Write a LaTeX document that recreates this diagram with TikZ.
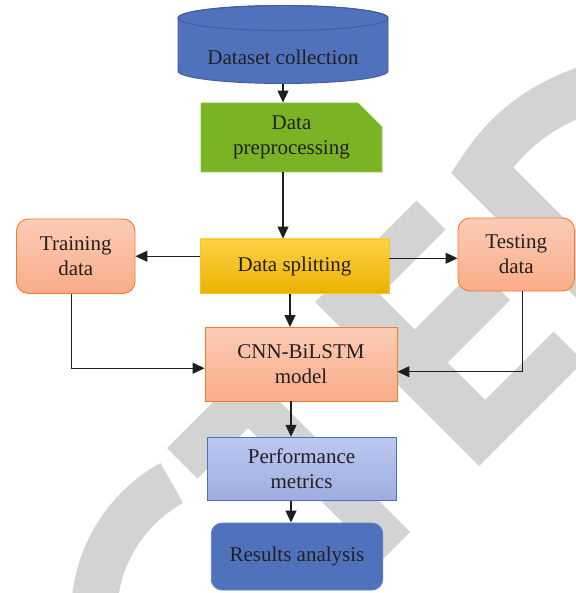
\documentclass[tikz,border=0pt]{standalone}
\usepackage{fontspec}
\setmainfont{Liberation Serif}
\usetikzlibrary{arrows.meta,shapes.misc}
\definecolor{wm}{RGB}{211,211,211}
\definecolor{txt}{RGB}{35,31,32}
\definecolor{cylblue}{RGB}{80,114,188}
\definecolor{cylline}{RGB}{62,92,158}
\definecolor{grfill}{RGB}{122,180,36}
\definecolor{grline}{RGB}{143,200,70}
\definecolor{yltop}{RGB}{255,209,70}
\definecolor{ylmid}{RGB}{255,195,0}
\definecolor{ylbot}{RGB}{233,178,0}
\definecolor{ylline}{RGB}{244,196,48}
\definecolor{ortop}{RGB}{251,204,182}
\definecolor{orbot}{RGB}{250,172,136}
\definecolor{orline}{RGB}{237,125,49}
\definecolor{pftop}{RGB}{188,200,241}
\definecolor{pfbot}{RGB}{157,173,223}
\definecolor{pfline}{RGB}{68,114,196}
\definecolor{resline}{RGB}{95,128,200}
\definecolor{arrc}{RGB}{30,30,30}
\tikzset{
  box/.style={draw, line width=0.9pt, align=center, inner sep=0pt, text=txt,
    font=\fontsize{21}{25}\selectfont},
  orbox/.style={box, draw=orline, top color=ortop, bottom color=orbot},
  arr/.style={draw=arrc, line width=1.2pt, -{Triangle[length=12pt,width=11pt]}},
  wmark/.style={draw=wm, line cap=butt}
}
\begin{document}
\begin{tikzpicture}[x=1pt,y=-1pt]
\useasboundingbox (0,0) rectangle (575,593);
% watermark
\fill[wm] (416.5,200.5) -- (315,302) -- (479,466) -- (583.5,361.5) -- (553.5,331.5)
  -- (485,400) -- (447.5,362.5) -- (510,300) -- (477,267) -- (414.5,329.5)
  -- (380,295) -- (445.5,229.5) -- cycle;
\fill[wm] (167,448) -- (246.5,368.5) -- (410,532) -- (381,561) -- (248,428) -- (197.5,478.5) -- cycle;
\draw[wmark, line width=46pt] (245,615) ++(170:151) arc[start angle=170, end angle=241, radius=151];
\draw[wmark, line width=48pt, line join=miter] (612,82) .. controls (540,100) and (505,135) .. (482,170) -- (660,348);
% cylinder
\node[minimum width=210pt, minimum height=79pt, inner sep=0pt] (ds) at (283,44.5) {};
\filldraw[fill=cylblue, draw=cylline, line width=0.9pt]
  (178,18) -- (178,71) arc[start angle=180, end angle=0, x radius=105, y radius=12.5]
  -- (388,18) arc[start angle=0, end angle=-180, x radius=105, y radius=12.5] -- cycle;
\draw[cylline, line width=0.9pt] (283,18) ellipse[x radius=105, y radius=12.5];
\node[text=txt, font=\fontsize{21}{25}\selectfont, inner sep=0pt] (dstext) at ([yshift=-13pt]ds.center) {Dataset collection};
% boxes
\node[box, draw=grline, fill=grfill, chamfered rectangle, chamfered rectangle corners=north east,
  chamfered rectangle xsep=12pt, chamfered rectangle ysep=12pt,
  minimum width=181pt, minimum height=69pt] (pre) at (291.5,137.5) {Data\\preprocessing};
\node[box, draw=ylline, top color=yltop, middle color=ylmid, bottom color=ylbot,
  minimum width=189pt, minimum height=54.5pt] (split) at (294.5,266.25) {Data splitting};
\node[orbox, rounded corners=12pt, minimum width=118.5pt, minimum height=74.5pt] (train) at (75.75,256.25) {Training\\data};
\node[orbox, rounded corners=12pt, minimum width=116.5pt, minimum height=73pt] (test) at (516.25,254.5) {Testing\\data};
\node[orbox, minimum width=192pt, minimum height=73.5pt] (cnn) at (301,364.25) {CNN-BiLSTM\\model};
\node[box, draw=pfline, top color=pftop, bottom color=pfbot,
  minimum width=189pt, minimum height=63.5pt] (perf) at (301.5,469) {Performance\\metrics};
\node[box, draw=resline, fill=cylblue, rounded corners=11pt,
  minimum width=171.5pt, minimum height=67pt] (res) at (297,556.5) {Results analysis};
% connectors
\draw[arr] (ds.south) -- (ds.south |- pre.north);
\draw[arr] (pre.south -| ds.south) -- (ds.south |- split.north);
\draw[arr] ([yshift=10pt]split.west) -- ([yshift=10pt]split.west -| train.east);
\draw[arr] ([yshift=8pt]split.east) -- ([yshift=8pt]split.east -| test.west);
\draw[arr] ([xshift=-4.5pt]split.south) -- ([xshift=-4.5pt]split.south |- cnn.north);
\draw[arr] ([xshift=-4pt]train.south) |- ([yshift=-4pt]cnn.west);
\draw[arr] ([xshift=6.25pt]test.south) |- ([yshift=-7.5pt]cnn.east);
\draw[arr] ([xshift=-10pt]cnn.south) -- ([xshift=-10pt]cnn.south |- perf.north);
\draw[arr] ([xshift=-10.5pt]perf.south) -- ([xshift=-10.5pt]perf.south |- res.north);
\end{tikzpicture}
\end{document}
